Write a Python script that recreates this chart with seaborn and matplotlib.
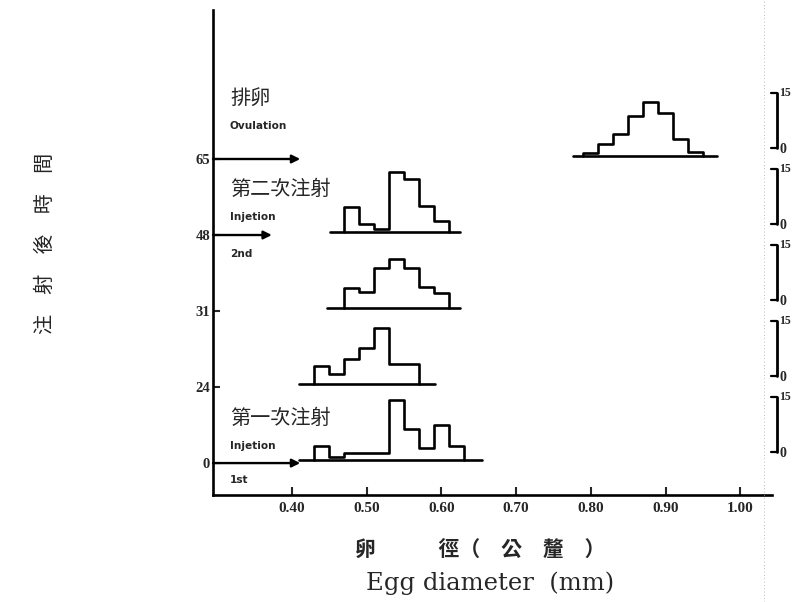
import matplotlib
matplotlib.use("Agg")
import matplotlib.pyplot as plt
from matplotlib.lines import Line2D
import seaborn as sns
import pandas as pd
import numpy as np

sns.set_theme(style="white")
plt.rcParams['font.family'] = ['Liberation Serif', 'Noto Sans CJK TC']

# Hours after injection (one row per histogram, bottom to top)
hour_labels = ["0", "24", "31", "48", "65"]

# Egg-diameter frequency histograms, 0.02 mm classes
bin_width = 0.02
bin_start = [0.43, 0.43, 0.47, 0.47, 0.79]
counts_0h = [3.8, 1.0, 2.0, 2.0, 2.0, 16.6, 8.5, 3.5, 9.8, 3.8]
counts_24h = [5.0, 2.9, 6.8, 10.0, 15.4, 5.5, 5.5]
counts_31h = [5.5, 4.4, 10.9, 13.6, 10.9, 5.9, 4.1]
counts_48h = [6.8, 2.3, 0.9, 16.4, 14.6, 7.3, 3.2]
counts_65h = [0.9, 3.4, 6.1, 10.9, 14.7, 11.7, 4.7, 1.1]
all_counts = [counts_0h, counts_24h, counts_31h, counts_48h, counts_65h]

# Extent of each histogram's base line (mm)
base_from = [0.410, 0.410, 0.447, 0.451, 0.776]
base_to = [0.654, 0.591, 0.625, 0.625, 0.969]

x_ticks = [0.40, 0.50, 0.60, 0.70, 0.80, 0.90, 1.00]
x_tick_labels = ["0.40", "0.50", "0.60", "0.70", "0.80", "0.90", "1.00"]
count_scale_max = 15

unit = 0.0482      # row height per egg count
lift = 0.035       # base line sits just above the row tick

# Step outlines
rows = []
for i, (start, cnts) in enumerate(zip(bin_start, all_counts)):
    base = i + lift
    edges = start + bin_width * np.arange(len(cnts) + 1)
    pts = [(edges[0], base)]
    for k, c in enumerate(cnts):
        pts.append((edges[k], base + c * unit))
        pts.append((edges[k + 1], base + c * unit))
    pts.append((edges[-1], base))
    for j, (x, y) in enumerate(pts):
        rows.append({"x": x, "y": y, "grp": i, "order": j})
steps = pd.DataFrame(rows)

base_rows = []
for i in range(len(hour_labels)):
    base_rows.append({"x": base_from[i], "y": i + lift, "grp": i})
    base_rows.append({"x": base_to[i], "y": i + lift, "grp": i})
bases = pd.DataFrame(base_rows)

fig = plt.figure(figsize=(7.93, 6.02), dpi=100)
ax = fig.add_axes([213 / 793, 1 - 495 / 602, (772 - 213) / 793, (495 - 10) / 602])

sns.lineplot(data=steps, x="x", y="y", units="grp", estimator=None, sort=False,
             color="black", lw=1.9, ax=ax, legend=False)
sns.lineplot(data=bases, x="x", y="y", units="grp", estimator=None, sort=False,
             color="black", lw=1.9, ax=ax, legend=False)

x0 = 0.40 - (292 - 213) / 747
x1 = 0.40 + (772 - 292) / 747
ax.set_xlim(x0, x1)
ax.set_ylim(-0.42, 5.96)

ax.set_xticks(x_ticks)
ax.set_xticklabels(x_tick_labels, fontweight="bold", fontsize=11)
ax.set_yticks(range(len(hour_labels)))
ax.set_yticklabels(hour_labels, fontweight="bold", fontsize=10.5)
ax.tick_params(axis="x", direction="in", length=6, width=1.5, pad=5, bottom=True)
ax.tick_params(axis="y", direction="in", length=5, width=1.5, pad=2, left=True)
ax.set_xlabel("")
ax.set_ylabel("")
for s in ["top", "right"]:
    ax.spines[s].set_visible(False)
for s in ["left", "bottom"]:
    ax.spines[s].set_color("black")
    ax.spines[s].set_linewidth(1.9)

# Arrows marking injections and ovulation
arrow_kw = dict(arrowstyle="-|>", lw=1.7, color="black", mutation_scale=12,
                shrinkA=0, shrinkB=0)
ax.annotate("", xy=(0.411, 4), xytext=(x0, 4), arrowprops=arrow_kw)
ax.annotate("", xy=(0.373, 3), xytext=(x0, 3), arrowprops=arrow_kw)
ax.annotate("", xy=(0.411, 0), xytext=(x0, 0), arrowprops=arrow_kw)

cjk = ["Noto Sans CJK TC", "DejaVu Sans"]
small = dict(fontweight="bold", fontsize=7.6, family=["DejaVu Sans"],
             ha="left", va="center")
tx = 0.317
ax.text(tx, 4.80, "排卵", family=cjk, fontsize=14.5, ha="left", va="center")
ax.text(tx, 4.43, "Ovulation", **small)
ax.text(tx, 3.60, "第二次注射", family=cjk, fontsize=14.5, ha="left", va="center")
ax.text(tx, 3.24, "Injetion", **small)
ax.text(tx, 2.75, "2nd", **small)
ax.text(tx, 0.59, "第一次注射", family=cjk, fontsize=14.5, ha="left", va="center")
ax.text(tx, 0.22, "Injetion", **small)
ax.text(tx, -0.22, "1st", **small)

# Count scale bars beside each histogram
xs = 0.40 + (777 - 292) / 747
xt = 0.40 + (771 - 292) / 747
for i in range(len(hour_labels)):
    b = i + 0.15
    t = b + count_scale_max * unit
    ax.plot([xs, xs], [b, t], color="black", lw=2.0, clip_on=False)
    ax.plot([xt, xs], [t, t], color="black", lw=1.6, clip_on=False)
    ax.plot([xt, xs], [b, b], color="black", lw=1.6, clip_on=False)
    ax.text(xs + 0.003, t, str(count_scale_max), fontsize=8.5, fontweight="bold",
            ha="left", va="center", clip_on=False)
    ax.text(xs + 0.003, b - 0.02, "0", fontsize=10, fontweight="bold",
            ha="left", va="center", clip_on=False)

# Axis titles
fig.text(480 / 793, 1 - 550 / 602, "卵　　　徑（　公　釐　）", family=cjk,
         fontsize=15, fontweight="bold", ha="center", va="center")
fig.text(490 / 793, 1 - 583 / 602, "Egg diameter  (mm)", family=["DejaVu Serif"],
         fontsize=17.5, ha="center", va="center")
fig.text(45 / 793, 1 - 243 / 602, "注　射　後　時　間", family=cjk,
         fontsize=14.5, rotation=90, ha="center", va="center")

# Fold line
fig.add_artist(Line2D([764 / 793, 764 / 793], [0, 1], transform=fig.transFigure,
                      ls=(0, (1, 3)), color="0.65", lw=0.6))

fig.savefig("out.png", dpi=100)
